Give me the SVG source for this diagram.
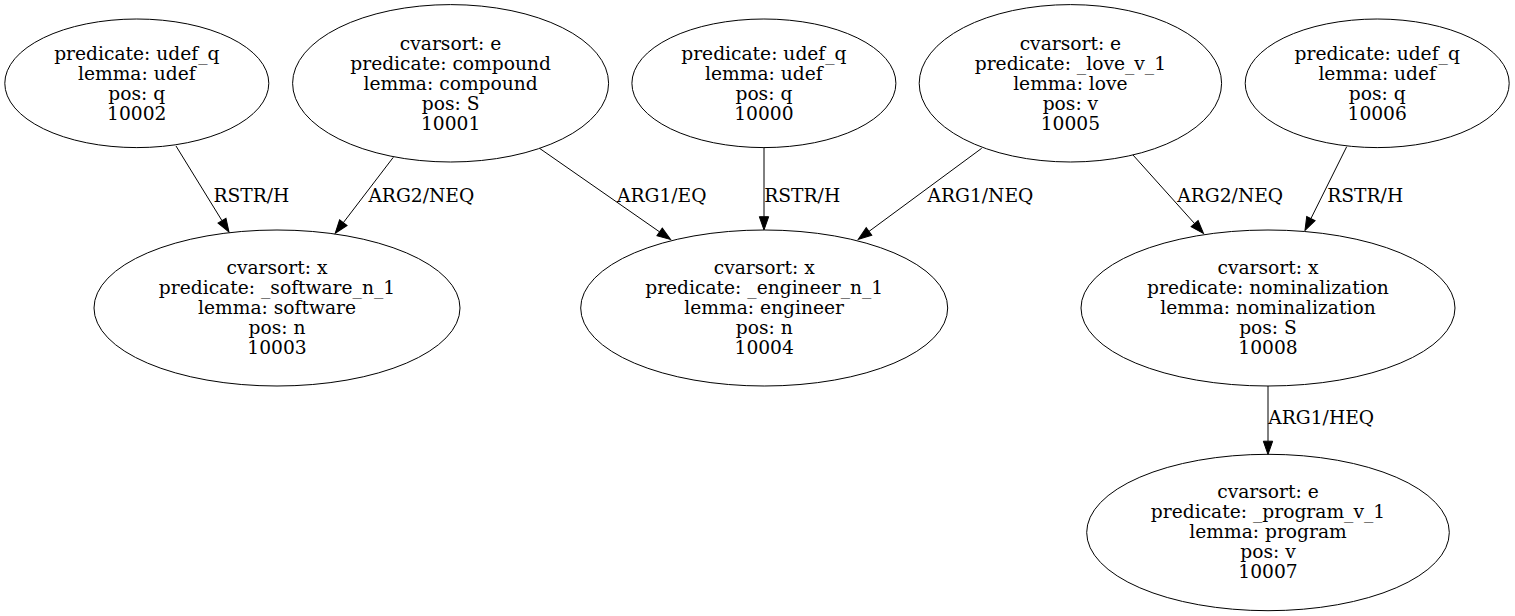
<svg xmlns="http://www.w3.org/2000/svg" width="1515" height="616" viewBox="0 0 1515 616">
  <style>
    .node ellipse { fill: none; stroke: #000; stroke-width: 1; }
    .node text { font-family: "DejaVu Serif", "Liberation Serif", serif; font-size: 18.67px; fill: #000; text-anchor: middle; }
    .edge line { stroke: #000; stroke-width: 1; marker-end: url(#arrow); }
    .edge text { font-family: "DejaVu Serif", "Liberation Serif", serif; font-size: 18.67px; fill: #000; text-anchor: start; }
  </style>
  <defs>
    <marker id="arrow" markerUnits="userSpaceOnUse" markerWidth="16" markerHeight="12" refX="0" refY="0" viewBox="0 -6 16 12" orient="auto" overflow="visible">
      <path d="M0,-4.67 L13.3,0 L0,4.67 Z" fill="#000" stroke="#000" stroke-width="1"/>
    </marker>
  </defs>
  <rect width="1515" height="616" fill="#fff"/>

  <!-- connectors -->
  <g id="edges">
    <g class="edge" id="e10002_10003">
      <line x1="176" y1="146" x2="222" y2="220.7"/>
      <text x="213.4" y="201.5">RSTR/H</text>
    </g>
    <g class="edge" id="e10001_10003">
      <line x1="393.3" y1="157.3" x2="343.3" y2="222.7"/>
      <text x="368.4" y="201.5">ARG2/NEQ</text>
    </g>
    <g class="edge" id="e10001_10004">
      <line x1="539.5" y1="148.3" x2="659.6" y2="231.9"/>
      <text x="617" y="201.5">ARG1/EQ</text>
    </g>
    <g class="edge" id="e10000_10004">
      <line x1="764" y1="147.5" x2="764" y2="216.7"/>
      <text x="764.3" y="201.5">RSTR/H</text>
    </g>
    <g class="edge" id="e10005_10004">
      <line x1="981.7" y1="148.3" x2="869" y2="231.4"/>
      <text x="927.5" y="201.5">ARG1/NEQ</text>
    </g>
    <g class="edge" id="e10005_10008">
      <line x1="1133" y1="155" x2="1194.6" y2="223.6"/>
      <text x="1177.3" y="201.5">ARG2/NEQ</text>
    </g>
    <g class="edge" id="e10006_10008">
      <line x1="1346.7" y1="146.7" x2="1310.9" y2="218.6"/>
      <text x="1327.3" y="201.5">RSTR/H</text>
    </g>
    <g class="edge" id="e10008_10007">
      <line x1="1268" y1="386" x2="1268" y2="441.2"/>
      <text x="1268.3" y="424">ARG1/HEQ</text>
    </g>
  </g>

  <!-- nodes -->
  <g class="node" id="n10002">
    <ellipse cx="136.8" cy="83.3" rx="132" ry="64.3"/>
    <text x="136.8" y="59.5">predicate: udef_q</text>
    <text x="136.8" y="79.5">lemma: udef</text>
    <text x="136.8" y="99.5">pos: q</text>
    <text x="136.8" y="119.5">10002</text>
  </g>
  <g class="node" id="n10001">
    <ellipse cx="450.6" cy="83.3" rx="158" ry="78.7"/>
    <text x="450.6" y="49.5">cvarsort: e</text>
    <text x="450.6" y="69.5">predicate: compound</text>
    <text x="450.6" y="89.5">lemma: compound</text>
    <text x="450.6" y="109.5">pos: S</text>
    <text x="450.6" y="129.5">10001</text>
  </g>
  <g class="node" id="n10000">
    <ellipse cx="763.9" cy="83.3" rx="132" ry="64.3"/>
    <text x="763.9" y="59.5">predicate: udef_q</text>
    <text x="763.9" y="79.5">lemma: udef</text>
    <text x="763.9" y="99.5">pos: q</text>
    <text x="763.9" y="119.5">10000</text>
  </g>
  <g class="node" id="n10005">
    <ellipse cx="1070.4" cy="83.3" rx="151.2" ry="78.7"/>
    <text x="1070.4" y="49.5">cvarsort: e</text>
    <text x="1070.4" y="69.5">predicate: _love_v_1</text>
    <text x="1070.4" y="89.5">lemma: love</text>
    <text x="1070.4" y="109.5">pos: v</text>
    <text x="1070.4" y="129.5">10005</text>
  </g>
  <g class="node" id="n10006">
    <ellipse cx="1377.2" cy="83.3" rx="132" ry="64.3"/>
    <text x="1377.2" y="59.5">predicate: udef_q</text>
    <text x="1377.2" y="79.5">lemma: udef</text>
    <text x="1377.2" y="99.5">pos: q</text>
    <text x="1377.2" y="119.5">10006</text>
  </g>
  <g class="node" id="n10003">
    <ellipse cx="277" cy="308" rx="183" ry="78"/>
    <text x="277" y="273.5">cvarsort: x</text>
    <text x="277" y="293.5">predicate: _software_n_1</text>
    <text x="277" y="313.5">lemma: software</text>
    <text x="277" y="333.5">pos: n</text>
    <text x="277" y="353.5">10003</text>
  </g>
  <g class="node" id="n10004">
    <ellipse cx="764.2" cy="308" rx="183.5" ry="78"/>
    <text x="764.2" y="273.5">cvarsort: x</text>
    <text x="764.2" y="293.5">predicate: _engineer_n_1</text>
    <text x="764.2" y="313.5">lemma: engineer</text>
    <text x="764.2" y="333.5">pos: n</text>
    <text x="764.2" y="353.5">10004</text>
  </g>
  <g class="node" id="n10008">
    <ellipse cx="1268" cy="308" rx="187" ry="78"/>
    <text x="1268" y="273.5">cvarsort: x</text>
    <text x="1268" y="293.5">predicate: nominalization</text>
    <text x="1268" y="313.5">lemma: nominalization</text>
    <text x="1268" y="333.5">pos: S</text>
    <text x="1268" y="353.5">10008</text>
  </g>
  <g class="node" id="n10007">
    <ellipse cx="1268" cy="532.5" rx="181.3" ry="78.2"/>
    <text x="1268" y="497.5">cvarsort: e</text>
    <text x="1268" y="517.5">predicate: _program_v_1</text>
    <text x="1268" y="537.5">lemma: program</text>
    <text x="1268" y="557.5">pos: v</text>
    <text x="1268" y="577.5">10007</text>
  </g>
</svg>
